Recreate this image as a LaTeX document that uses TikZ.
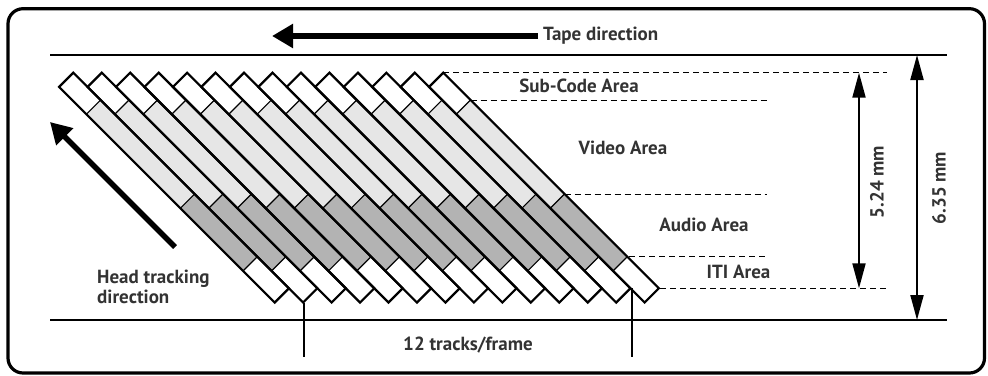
\documentclass[tikz,border=0pt]{standalone}
\usepackage{fontspec}
\setmainfont{PT Sans}
\usetikzlibrary{arrows.meta}
\definecolor{txt}{HTML}{333333}
\definecolor{vid}{HTML}{E6E6E6}
\definecolor{aud}{HTML}{B3B3B3}
\tikzset{
  lbl/.style={font=\fontsize{19}{20}\selectfont\bfseries, text=txt, inner sep=0pt},
  dashline/.style={line width=1pt, dash pattern=on 6pt off 4pt},
  outline/.style={line width=2.2pt, line join=miter},
  divider/.style={line width=1.2pt},
  dimarrow/.style={line width=2pt, {Triangle[length=25pt,width=13pt]}-{Triangle[length=25pt,width=13pt]}},
  bigarrow/.style={line width=5.5pt, -{Triangle[length=21pt,width=23pt]}},
  rule/.style={line width=2.5pt},
  tick/.style={line width=2pt}
}
\begin{document}
\begin{tikzpicture}[x=1pt,y=-1pt]
\useasboundingbox (0,0) rectangle (988,375);
% frame
\draw[line width=3.2pt, rounded corners=15pt] (8,8.7) rectangle (984.5,373);
% tape edges
\coordinate (tl) at (50,55); \coordinate (tr) at (947,55);
\coordinate (bl) at (50,320); \coordinate (br) at (947,320);
\draw[rule] (tl) -- (tr);
\draw[rule] (bl) -- (br);
% track fills
\foreach \i in {0,...,13}{
  \pgfmathsetmacro\tx{73.3+28.46*\i}
  \begin{scope}[shift={(\tx,72.7)}]
    \foreach \a/\b/\c in {0/27.3/white, 27.3/121.3/vid, 121.3/184/aud, 184/215.6/white}{
      \fill[\c] (\a,\a) -- (\b,\b) -- (\b-14.23,\b+14.23) -- (\a-14.23,\a+14.23) -- cycle;
    }
  \end{scope}
}
% track lines
\foreach \i in {0,...,13}{
  \pgfmathsetmacro\tx{73.3+28.46*\i}
  \begin{scope}[shift={(\tx,72.7)}]
    \foreach \d in {27.3,121.3,184}{
      \draw[divider] (\d,\d) -- (\d-14.23,\d+14.23);
    }
    \draw[outline] (0,0) -- (215.6,215.6) -- (201.37,229.83) -- (-14.23,14.23) -- cycle;
  \end{scope}
}
% dashed area lines
\coordinate (d1a) at (443.3,72.7);  \coordinate (d1b) at (887,72.7);
\coordinate (d2a) at (470.6,100);   \coordinate (d2b) at (767,100);
\coordinate (d3a) at (564.6,194);   \coordinate (d3b) at (767,194);
\coordinate (d4a) at (629,256.7);   \coordinate (d4b) at (767,256.7);
\coordinate (d5a) at (660,288.3);   \coordinate (d5b) at (887,288.3);
\draw[dashline] (d1a) -- (d1b);
\draw[dashline] (d2a) -- (d2b);
\draw[dashline] (d3a) -- (d3b);
\draw[dashline] (d4a) -- (d4b);
\draw[dashline] (d5a) -- (d5b);
% area labels
\node[lbl] (sub) at (579,86) {Sub-Code Area};
\node[lbl] (vid) at (623,148) {Video Area};
\node[lbl] (aud) at (704,225) {Audio Area};
\node[lbl] (iti) at (738.5,272) {ITI Area};
% tape direction
\node[lbl, anchor=west] (tape) at (543,36) {Tape direction};
\coordinate (tapetip) at (272,36);
\draw[bigarrow] (tape.west) ++(-5,0) coordinate (tapetail) (tapetail) -- (tapetip);
% head tracking
\coordinate (htail) at (175,247);
\coordinate (htip) at (50,122);
\draw[bigarrow] (htail) -- (htip);
\node[lbl, anchor=west, align=left] (head) at (97,287) {Head tracking\\direction};
% dimensions
\coordinate (a1) at (859,72.7); \coordinate (a2) at (859,288.3);
\draw[dimarrow] (a1) -- (a2);
\node[lbl, rotate=90] (m524) at (877,182) {5.24 mm};
\coordinate (b1) at (917,55); \coordinate (b2) at (917,320);
\draw[dimarrow] (b1) -- (b2);
\node[lbl, rotate=90] (m635) at (939,188) {6.35 mm};
% frame ticks
\coordinate (f1a) at (304,303); \coordinate (f1b) at (304,357);
\coordinate (f2a) at (632,288.3); \coordinate (f2b) at (632,357);
\draw[tick] (f1a) -- (f1b);
\draw[tick] (f2a) -- (f2b);
\node[lbl] (frame) at (468,345) {12 tracks/frame};
\end{tikzpicture}
\end{document}
